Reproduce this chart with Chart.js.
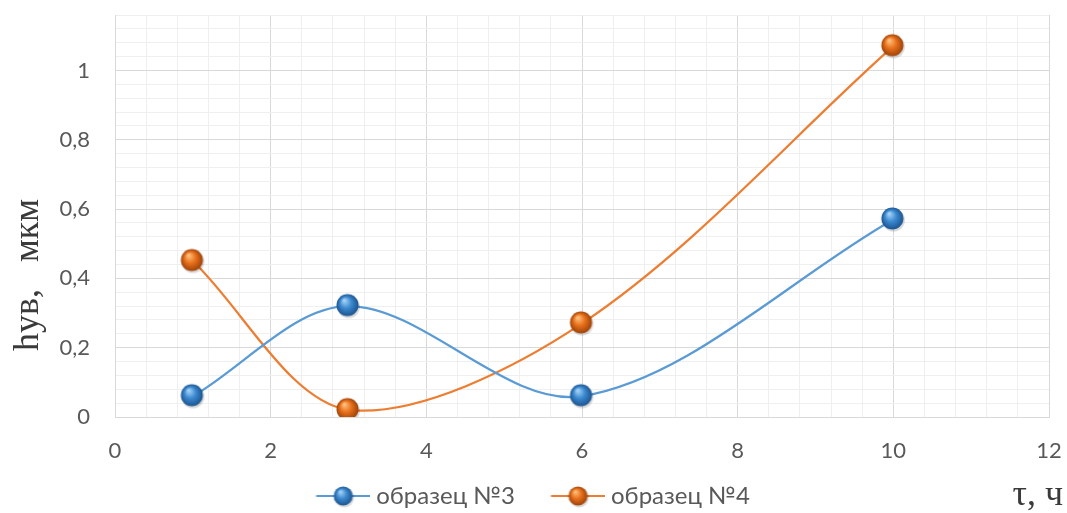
<!DOCTYPE html>
<html>
<head>
<meta charset="utf-8">
<script src="https://cdn.jsdelivr.net/npm/chart.js@4"></script>
<style>
  html, body { margin: 0; background: #fff; }
  #wrap { width: 1067px; height: 513px; }
</style>
</head>
<body>
<div id="wrap"><canvas id="chart"></canvas></div>
<script>
// time, hours
const timeHours = [1, 3, 6, 10];
// hув, мкм
const sample3 = [0.06, 0.32, 0.06, 0.57];
const sample4 = [0.45, 0.02, 0.27, 1.07];
const seriesNames = ["образец №3", "образец №4"];
const yTitle = "hув,   мкм";
const xTitle = "τ, ч";

const xMax = 12, xMajor = 2, xMinor = 0.4;
const yMax = 1.16, yMajor = 0.2, yMinor = 0.04;

const tickFont = { family: "Lato", size: 22 };
const tickColor = "#595959";

function isMajor(v, step) {
    const r = v / step;
    return Math.abs(r - Math.round(r)) < 1e-6;
}

function fmt(v) {
    return String(+v.toFixed(1)).replace(".", ",");
}

// glossy ball used as the marker
function sphere(base, light, dark, r) {
    const s = r * 2 + 5;
    const c = document.createElement("canvas");
    c.width = s; c.height = s;
    const g = c.getContext("2d");
    const cx = s / 2 - 1, cy = s / 2 - 1;
    g.fillStyle = "rgba(0,0,0,0.15)";
    g.beginPath(); g.arc(cx + 1, cy + 1.5, r + 0.5, 0, Math.PI * 2); g.fill();
    const grad = g.createRadialGradient(cx - r * 0.3, cy - r * 0.45, r * 0.05, cx, cy, r);
    grad.addColorStop(0, light);
    grad.addColorStop(0.5, base);
    grad.addColorStop(1, dark);
    g.fillStyle = grad;
    g.beginPath(); g.arc(cx, cy, r, 0, Math.PI * 2); g.fill();
    return c;
}

// legend icon: blank gap on the left, then a short line with the ball on it
const legendBoxW = 65;
function legendIcon(lineColor, ball) {
    const w = 76, h = 24;
    const left = (w - legendBoxW) / 2 + 17;
    const right = left + 54;
    const c = document.createElement("canvas");
    c.width = w; c.height = h;
    const g = c.getContext("2d");
    g.strokeStyle = lineColor;
    g.lineWidth = 2;
    g.beginPath(); g.moveTo(left, h / 2); g.lineTo(right, h / 2); g.stroke();
    g.drawImage(ball, (left + right) / 2 - ball.width / 2 + 1, (h - ball.height) / 2 + 1);
    return c;
}

const blue = "#5b9bd5", orange = "#ed7d31";
const blueBall = sphere("#3b88cf", "#a6d4f7", "#1c5590", 11);
const orangeBall = sphere("#e8701c", "#ffc27e", "#9e4308", 11);
const legendIcons = [
    legendIcon(blue, sphere("#3b88cf", "#a6d4f7", "#1c5590", 9.5)),
    legendIcon(orange, sphere("#e8701c", "#ffc27e", "#9e4308", 9.5))
];

const axisTitles = {
    id: "axisTitles",
    afterDraw(chart) {
        const { ctx, chartArea } = chart;
        ctx.save();
        ctx.fillStyle = "#3a3a3a";
        ctx.textBaseline = "alphabetic";
        ctx.font = '36px "Liberation Serif"';

        ctx.save();
        ctx.translate(38, (chartArea.top + chartArea.bottom) / 2 + 59);
        ctx.rotate(-Math.PI / 2);
        ctx.textAlign = "center";
        ctx.fillText(yTitle, 0, 0);
        ctx.restore();

        ctx.textAlign = "right";
        ctx.fillText(xTitle, chartArea.right + 14, chartArea.bottom + 88);
        ctx.restore();
    }
};

new Chart(document.getElementById("chart"), {
    type: "line",
    data: {
        datasets: [
            {
                label: seriesNames[0],
                data: timeHours.map((t, i) => ({ x: t, y: sample3[i] })),
                borderColor: blue,
                backgroundColor: blue,
                borderWidth: 2.25,
                tension: 0.33,
                pointStyle: blueBall,
                pointRadius: 11
            },
            {
                label: seriesNames[1],
                data: timeHours.map((t, i) => ({ x: t, y: sample4[i] })),
                borderColor: orange,
                backgroundColor: orange,
                borderWidth: 2.25,
                tension: 0.33,
                pointStyle: orangeBall,
                pointRadius: 11
            }
        ]
    },
    options: {
        responsive: true,
        maintainAspectRatio: false,
        animation: false,
        events: [],
        layout: { padding: { top: 15, right: 18, left: 0, bottom: -5 } },
        scales: {
            x: {
                type: "linear",
                min: 0,
                max: xMax,
                afterFit(scale) {
                    scale.height = 48;
                    scale.paddingLeft = 0;
                    scale.paddingRight = 0;
                },
                ticks: {
                    stepSize: xMinor,
                    autoSkip: false,
                    maxRotation: 0,
                    padding: 21,
                    color: tickColor,
                    font: tickFont,
                    callback: v => isMajor(v, xMajor) ? fmt(v) : ""
                },
                grid: {
                    drawTicks: false,
                    color: c => c.tick && isMajor(c.tick.value, xMajor) ? "#d9d9d9" : "#efefef"
                },
                border: { color: "#d9d9d9" }
            },
            y: {
                min: 0,
                max: yMax,
                afterFit(scale) {
                    scale.width = 115;
                    scale.paddingTop = 0;
                    scale.paddingBottom = 0;
                },
                ticks: {
                    stepSize: yMinor,
                    autoSkip: false,
                    padding: 25,
                    color: tickColor,
                    font: tickFont,
                    callback: v => isMajor(v, yMajor) ? fmt(v) : ""
                },
                grid: {
                    drawTicks: false,
                    color: c => c.tick && isMajor(c.tick.value, yMajor) ? "#d9d9d9" : "#efefef"
                },
                border: { color: "#d9d9d9" }
            }
        },
        plugins: {
            tooltip: { enabled: false },
            legend: {
                position: "bottom",
                labels: {
                    usePointStyle: true,
                    pointStyleWidth: legendBoxW,
                    padding: 19,
                    color: tickColor,
                    font: { family: "Lato", size: 24 },
                    generateLabels(chart) {
                        return Chart.defaults.plugins.legend.labels.generateLabels(chart)
                            .map((item, i) => Object.assign(item, { pointStyle: legendIcons[i] }));
                    }
                }
            }
        }
    },
    plugins: [axisTitles]
});
</script>
</body>
</html>
